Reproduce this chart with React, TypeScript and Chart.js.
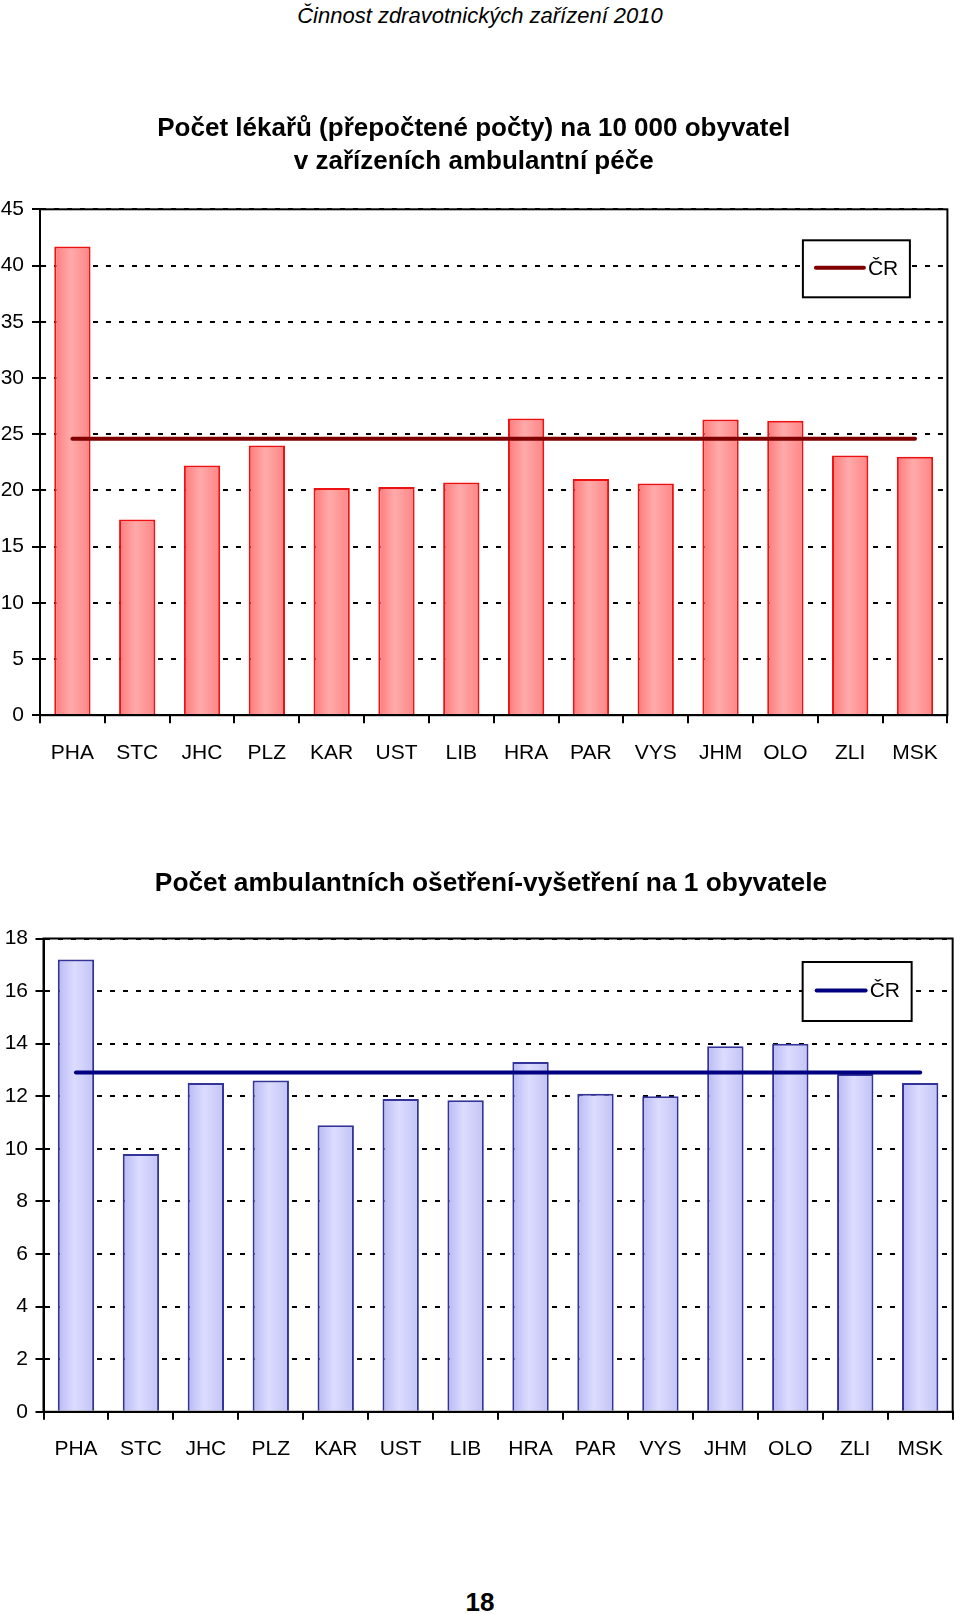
import React, { useEffect, useRef } from "react";
import { Chart, registerables } from "chart.js";

Chart.register(...registerables);

// ---------- data ----------
const REGIONS = ["PHA", "STC", "JHC", "PLZ", "KAR", "UST", "LIB", "HRA", "PAR", "VYS", "JHM", "OLO", "ZLI", "MSK"];

const DOCTORS_PER_10000 = [41.7, 17.4, 22.2, 24.0, 20.2, 20.3, 20.7, 26.4, 21.0, 20.6, 26.3, 26.2, 23.1, 23.0];
const DOCTORS_CR = [24.6, 24.6, 24.6, 24.6, 24.6, 24.6, 24.6, 24.6, 24.6, 24.6, 24.6, 24.6, 24.6, 24.6];

const VISITS_PER_CAPITA = [17.2, 9.8, 12.5, 12.6, 10.9, 11.9, 11.85, 13.3, 12.1, 12.0, 13.9, 14.0, 12.85, 12.5];
const VISITS_CR = [12.9, 12.9, 12.9, 12.9, 12.9, 12.9, 12.9, 12.9, 12.9, 12.9, 12.9, 12.9, 12.9, 12.9];

const CR_LABEL = "ČR";
const HEADER = "Činnost zdravotnických zařízení 2010";
const TITLE_1 = ["Počet lékařů (přepočtené počty) na 10 000 obyvatel", "v zařízeních ambulantní péče"];
const TITLE_2 = "Počet ambulantních ošetření-vyšetření na 1 obyvatele";
const PAGE_NUMBER = "18";

const Y1_MAX = 45;
const Y1_STEP = 5;
const Y2_MAX = 18;
const Y2_STEP = 2;

// ---------- styles ----------
const NARROW = '"Liberation Sans Narrow", "Arial Narrow", "Liberation Sans", Arial, sans-serif';
const SANS = '"Liberation Sans", Arial, sans-serif';
const BAR_PCT = 0.56;

function barGradient(stops: string[]) {
  return (c: any) => {
    const chart = c.chart;
    const xs = chart.scales && chart.scales.x;
    if (!chart.chartArea || !xs || c.dataIndex == null) return stops[1];
    const cx = xs.getPixelForValue(c.dataIndex);
    const half = ((xs.right - xs.left) / chart.data.labels.length) * BAR_PCT / 2;
    if (!isFinite(cx) || !isFinite(half)) return stops[1];
    const g = chart.ctx.createLinearGradient(cx - half, 0, cx + half, 0);
    g.addColorStop(0, stops[0]);
    g.addColorStop(0.45, stops[1]);
    g.addColorStop(1, stops[2]);
    return g;
  };
}

const frameLegendPlugin = {
  id: "frameLegend",
  afterDraw(chart: any, _args: any, opts: any) {
    const { ctx, chartArea: a } = chart;
    if (!a) return;
    ctx.save();
    ctx.strokeStyle = "#000";
    ctx.lineWidth = 2;
    ctx.strokeRect(a.left, a.top, a.right - a.left, a.bottom - a.top);
    // legend box
    const bx = a.right - opts.right - opts.w;
    const by = a.top + opts.top;
    ctx.fillStyle = "#fff";
    ctx.fillRect(bx, by, opts.w, opts.h);
    ctx.strokeRect(bx, by, opts.w, opts.h);
    const ds = chart.data.datasets[0];
    const cy = by + opts.h / 2 - 1;
    ctx.strokeStyle = ds.borderColor;
    ctx.lineWidth = 4;
    ctx.lineCap = "round";
    ctx.beginPath();
    ctx.moveTo(bx + opts.lineX0, cy);
    ctx.lineTo(bx + opts.lineX1, cy);
    ctx.stroke();
    ctx.fillStyle = "#000";
    ctx.font = `21px ${SANS}`;
    ctx.textBaseline = "middle";
    ctx.textAlign = "left";
    ctx.fillText(ds.label, bx + opts.textX, cy + 1);
    ctx.restore();
  },
};

interface ChartParams {
  values: number[];
  cr: number[];
  lineColor: string;
  barBorder: string;
  barStops: string[];
  title: string[] | null;
  titleSize: number;
  yMax: number;
  yStep: number;
  padding: { top: number; right: number; bottom: number; left: number };
  titleBottom: number;
  yWidth: number;
  yPad: number;
  legend: any;
}

function makeConfig(p: ChartParams): any {
  return {
    type: "bar",
    data: {
      labels: REGIONS,
      datasets: [
        {
          type: "line",
          label: CR_LABEL,
          data: p.cr,
          borderColor: p.lineColor,
          backgroundColor: p.lineColor,
          borderWidth: 4,
          pointRadius: 0,
          borderCapStyle: "round",
          fill: false,
          order: 0,
        },
        {
          type: "bar",
          label: "kraje",
          data: p.values,
          backgroundColor: barGradient(p.barStops),
          borderColor: p.barBorder,
          borderWidth: 2,
          barPercentage: BAR_PCT,
          categoryPercentage: 1,
          order: 1,
        },
      ],
    },
    options: {
      animation: false,
      responsive: false,
      devicePixelRatio: 1,
      layout: { padding: p.padding },
      plugins: {
        legend: { display: false },
        tooltip: { enabled: false },
        title: {
          display: !!p.title,
          text: p.title || "",
          color: "#000",
          font: { family: SANS, size: p.titleSize, weight: "bold", lineHeight: 33 / p.titleSize },
          padding: { top: 0, bottom: p.titleBottom },
        },
        frameLegend: p.legend,
      },
      scales: {
        x: {
          grid: {
            display: true,
            drawOnChartArea: false,
            drawTicks: true,
            tickLength: 8,
            color: "#000",
            lineWidth: 2,
            offset: true,
          },
          border: { display: true, color: "#000", width: 2 },
          ticks: {
            color: "#000",
            font: { family: NARROW, size: 21, lineHeight: 1.2 },
            padding: 17,
            maxRotation: 0,
            autoSkip: false,
          },
          afterFit: (s: any) => {
            s.height = 60;
          },
        },
        y: {
          min: 0,
          max: p.yMax,
          ticks: {
            stepSize: p.yStep,
            color: "#000",
            font: { family: NARROW, size: 21 },
            padding: p.yPad,
          },
          grid: {
            color: "#000",
            lineWidth: 2,
            drawTicks: true,
            tickLength: 8,
            tickBorderDash: [],
            tickColor: "#000",
            tickWidth: 2,
          },
          border: { display: true, color: "#000", width: 2, dash: [5, 8] },
          afterFit: (s: any) => {
            s.width = p.yWidth;
          },
        },
      },
    },
    plugins: [frameLegendPlugin],
  };
}

function ChartCanvas({ params, top, height }: { params: ChartParams; top: number; height: number }) {
  const ref = useRef<HTMLCanvasElement | null>(null);
  useEffect(() => {
    if (!ref.current) return;
    const chart = new Chart(ref.current, makeConfig(params));
    return () => chart.destroy();
  }, []);
  return (
    <canvas
      ref={ref}
      width={960}
      height={height}
      style={{ position: "absolute", left: 0, top, width: 960, height }}
    />
  );
}

const CHART1: ChartParams = {
  values: DOCTORS_PER_10000,
  cr: DOCTORS_CR,
  lineColor: "#800000",
  barBorder: "#ee1111",
  barStops: ["#ff7a7a", "#ffaaaa", "#ff8585"],
  title: TITLE_1,
  titleSize: 26,
  yMax: Y1_MAX,
  yStep: Y1_STEP,
  padding: { top: 112, right: 12.6, bottom: 24.8, left: 0 },
  titleBottom: 31.3,
  yWidth: 40,
  yPad: 8,
  legend: { right: 37.5, top: 31, w: 107, h: 57, lineX0: 13, lineX1: 61, textX: 65 },
};

const CHART2: ChartParams = {
  values: VISITS_PER_CAPITA,
  cr: VISITS_CR,
  lineColor: "#000080",
  barBorder: "#333399",
  barStops: ["#b9b9f4", "#dcdcff", "#c3c3f6"],
  title: null,
  titleSize: 26.3,
  yMax: Y2_MAX,
  yStep: Y2_STEP,
  padding: { top: 108.5, right: 2, bottom: 58.2, left: 0 },
  titleBottom: 0,
  yWidth: 43.5,
  yPad: 7.5,
  legend: { right: 41, top: 23.5, w: 109, h: 59, lineX0: 14, lineX1: 63, textX: 67 },
};

export default function App() {
  return (
    <div
      style={{
        position: "absolute",
        left: 0,
        top: 0,
        width: 960,
        height: 1614,
        background: "#fff",
        overflow: "hidden",
      }}
    >
      <div
        style={{
          position: "absolute",
          left: 0,
          top: 0,
          width: 960,
          height: 31,
          lineHeight: "31px",
          textAlign: "center",
          fontFamily: SANS,
          fontStyle: "italic",
          fontSize: 22,
          color: "#000",
        }}
      >
        {HEADER}
      </div>
      <ChartCanvas params={CHART1} top={0} height={800} />
      <ChartCanvas params={CHART2} top={830} height={700} />
      <div
        style={{
          position: "absolute",
          left: 22,
          top: 865.5,
          width: 938,
          height: 33,
          lineHeight: "33px",
          textAlign: "center",
          fontFamily: SANS,
          fontWeight: "bold",
          fontSize: 26.3,
          color: "#000",
          whiteSpace: "nowrap",
        }}
      >
        {TITLE_2}
      </div>
      <div
        style={{
          position: "absolute",
          left: 0,
          top: 1587,
          width: 960,
          height: 30,
          lineHeight: "30px",
          textAlign: "center",
          fontFamily: SANS,
          fontWeight: "bold",
          fontSize: 26,
          color: "#000",
        }}
      >
        {PAGE_NUMBER}
      </div>
    </div>
  );
}
